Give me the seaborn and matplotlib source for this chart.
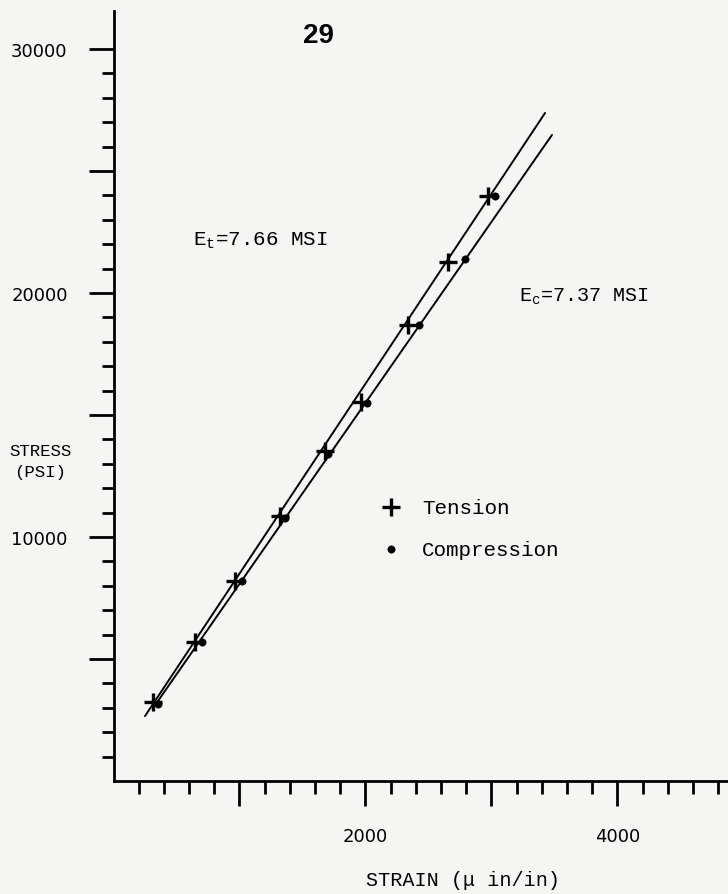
import seaborn as sns
import matplotlib.pyplot as plt
from matplotlib.ticker import FixedLocator

# Valores (deformacion en micro in/in, esfuerzo en psi)
tension_strain = [313, 647, 964, 1321, 1679, 1964, 2337, 2655, 2972]
tension_stress = [3240, 5700, 8200, 10860, 13520, 15530, 18690, 21270, 23980]
comp_strain = [353, 702, 1020, 1361, 1702, 2012, 2425, 2790, 3028]
comp_stress = [3160, 5700, 8200, 10780, 13400, 15490, 18690, 21390, 23980]

# Rectas de ajuste (extremos)
tension_fit_strain = [250, 3425]
tension_fit_stress = [2660, 27380]
comp_fit_strain = [353, 3480]
comp_fit_stress = [3280, 26480]

x_major = [1000, 2000, 3000, 4000]
x_labels = ['', '2000', '', '4000']
y_major = [5000, 10000, 15000, 20000, 25000, 30000]
y_labels = ['', '10000', '', '20000', '', '30000']

paper = '#f5f5f3'

sns.set_style('ticks')
plt.rcParams['font.family'] = ['Liberation Mono', 'DejaVu Sans']
plt.rcParams['mathtext.fontset'] = 'custom'
plt.rcParams['mathtext.rm'] = 'Liberation Mono'
plt.rcParams['mathtext.it'] = 'Liberation Mono'
plt.rcParams['text.color'] = 'black'
plt.rcParams['axes.labelcolor'] = 'black'
plt.rcParams['xtick.color'] = 'black'
plt.rcParams['ytick.color'] = 'black'

fig = plt.figure(figsize=(7.28, 8.95), dpi=100, facecolor=paper)
ax = fig.add_axes([113.5 / 728, 113 / 895, (728 - 113.5) / 728, 770 / 895])
ax.set_facecolor(paper)

# Rectas
sns.lineplot(x=tension_fit_strain, y=tension_fit_stress, color='k', lw=1.4, sort=False, ax=ax)
sns.lineplot(x=comp_fit_strain, y=comp_fit_stress, color='k', lw=1.4, sort=False, ax=ax)

# Puntos
sns.scatterplot(x=tension_strain, y=tension_stress, marker='+', s=150, color='k',
                linewidth=2.4, label='Tension', ax=ax)
sns.scatterplot(x=comp_strain, y=comp_stress, marker='o', s=28, color='k',
                edgecolor='k', label='Compression', ax=ax)

ax.set_xlim(0, 4877)
ax.set_ylim(0, 31560)

sns.despine(ax=ax)
for s in ['left', 'bottom']:
    ax.spines[s].set_linewidth(2)
    ax.spines[s].set_color('black')

ax.set_xticks(x_major, x_labels)
ax.set_yticks(y_major, y_labels)
ax.xaxis.set_minor_locator(FixedLocator([v for v in range(200, 4900, 200) if v % 1000]))
ax.yaxis.set_minor_locator(FixedLocator([v for v in range(1000, 31000, 1000) if v % 5000]))

ax.tick_params(axis='both', which='major', direction='out', length=18, width=2,
               labelsize=13, labelfontfamily='DejaVu Sans')
ax.tick_params(axis='both', which='minor', direction='out', length=9, width=2)
ax.tick_params(axis='x', which='major', pad=15)
ax.tick_params(axis='y', which='major', pad=15)

ax.set_ylabel('STRESS\n(PSI)', rotation=0, fontsize=12.5, linespacing=1.5,
              ha='center', va='center')
ax.yaxis.set_label_coords(-0.1196, 0.4156)
ax.set_xlabel('STRAIN (\u03bc in/in)', fontsize=14.5)
ax.xaxis.set_label_coords(0.5687, -0.115)

ax.text(631, 21967, r'E$_\mathrm{t}$=7.66 MSI', fontsize=15, ha='left', va='baseline')
ax.text(3218, 19672, r'E$_\mathrm{c}$=7.37 MSI', fontsize=14.5, ha='left', va='baseline')

ax.legend(loc='upper left', bbox_to_anchor=(0.3865, 0.392), frameon=False, fontsize=15,
          handletextpad=0.5, labelspacing=1.1)

fig.text(318 / 728, 1 - 36 / 895, '29', fontsize=20, fontweight='bold',
         family='Liberation Sans', ha='center', va='center')

fig.savefig('out.png', dpi=100, facecolor=paper)
